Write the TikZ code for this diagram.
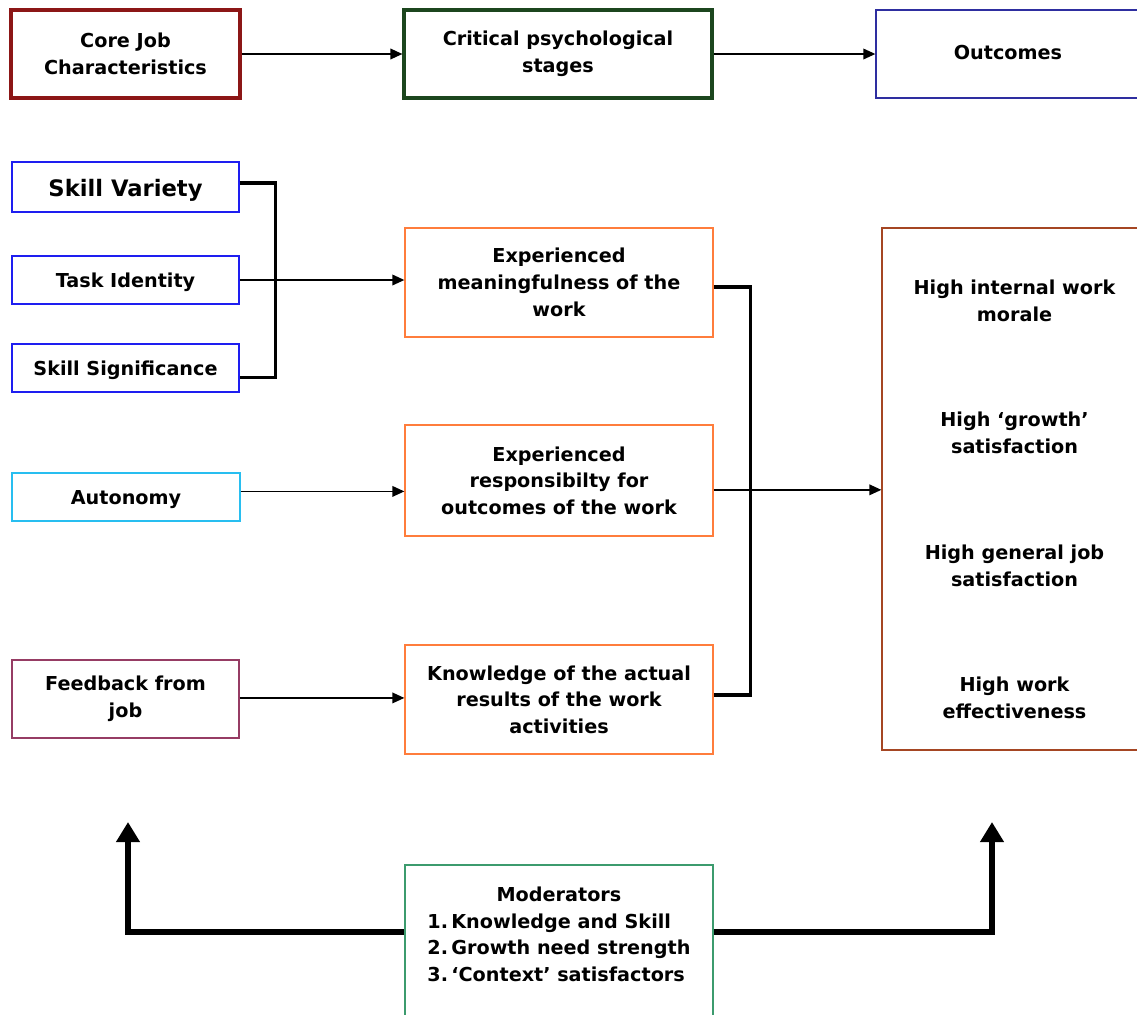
\documentclass[tikz,border=0pt]{standalone}
\usepackage{fontspec}
\setmainfont{DejaVu Sans}
\usetikzlibrary{arrows.meta}

\definecolor{coreRed}{RGB}{140,22,22}
\definecolor{stageGreen}{RGB}{28,70,30}
\definecolor{outBlue}{RGB}{46,46,160}
\definecolor{skillBlue}{RGB}{30,30,240}
\definecolor{stageOrange}{RGB}{255,125,60}
\definecolor{autoCyan}{RGB}{40,190,240}
\definecolor{fbPlum}{RGB}{150,60,100}
\definecolor{resBrown}{RGB}{165,70,35}
\definecolor{modGreen}{RGB}{60,155,110}

\def\u{0.75pt}
\newcommand\labelfont{\bfseries\fontsize{14.4}{20}\selectfont}

\tikzset{
  box/.style={draw=#1, rectangle, inner sep=0pt, align=center, font=\labelfont},
  heavybox/.style={box=#1, line width=2.4pt},
  lightbox/.style={box=#1, line width=1pt},
  oneline/.style={text height=#1, text depth=0pt},
  oneline/.default=10.5pt,
  outtext/.style={font=\labelfont, align=center},
  thinarrow/.style={line width=1.1pt, -{Triangle[length=9pt,width=8pt]}},
  joinline/.style={line width=2.6pt},
  bigarrow/.style={line width=4.4pt, line join=miter,
    -{Triangle[length=15pt,width=17pt]}},
}

\begin{document}
\begin{tikzpicture}[x=\u, y=-\u]
\useasboundingbox (0,0) rectangle (1137,1014);

% header row
\node[heavybox=coreRed, minimum width=229*\u, minimum height=88*\u] (core) at (125.5,54) {Core Job\\Characteristics};
\node[heavybox=stageGreen, minimum width=308*\u, minimum height=88*\u] (crit) at (558,54) {Critical psychological\\stages};
\node[lightbox=outBlue, minimum width=264*\u, minimum height=88*\u, oneline=7.5pt] (outc) at (1008,54) {Outcomes};

\draw[thinarrow] (core) -- (crit);
\draw[thinarrow] (crit) -- (outc);

% core job characteristics
\node[lightbox=skillBlue, minimum width=227*\u, minimum height=50*\u, oneline=14.6pt,
  font=\bfseries\fontsize{17}{20}\selectfont] (skv) at (125.5,187) {Skill Variety};
\node[lightbox=skillBlue, minimum width=227*\u, minimum height=48*\u, oneline] (tid) at (125.5,280) {Task Identity};
\node[lightbox=skillBlue, minimum width=227*\u, minimum height=48*\u, oneline] (sks) at (125.5,368) {Skill Significance};
\node[lightbox=autoCyan, minimum width=228*\u, minimum height=48*\u, oneline] (aut) at (126,497) {Autonomy};
\node[lightbox=fbPlum, minimum width=227*\u, minimum height=78*\u] (fbj) at (125.5,699) {Feedback from\\job};

% critical psychological states
\node[lightbox=stageOrange, minimum width=308*\u, minimum height=109*\u] (mean) at (559,282.5) {Experienced\\meaningfulness of the\\work};
\node[lightbox=stageOrange, minimum width=308*\u, minimum height=111*\u] (resp) at (559,480.5) {Experienced\\responsibilty for\\outcomes of the work};
\node[lightbox=stageOrange, minimum width=308*\u, minimum height=109*\u] (knw) at (559,699.5) {Knowledge of the actual\\results of the work\\activities};

% outcomes
\node[lightbox=resBrown, minimum width=265*\u, minimum height=522*\u] (res) at (1014.5,489) {};
\node[outtext] (o1) at (1014.5,301) {High internal work\\morale};
\node[outtext] (o2) at (1014.5,433) {High `growth'\\satisfaction};
\node[outtext] (o3) at (1014.5,566) {High general job\\satisfaction};
\node[outtext] (o4) at (1014.5,698) {High work\\effectiveness};

% moderators
\node[lightbox=modGreen, minimum width=308*\u, minimum height=160*\u] (mod) at (559,945) {};
\node[font=\labelfont, inner sep=0pt] (modtext) at (559,936)
  {\begin{tabular}{@{}l@{}}\multicolumn{1}{@{}c@{}}{Moderators}\\
   1.\,Knowledge and Skill\\
   2.\,Growth need strength\\
   3.\,`Context' satisfactors\end{tabular}};

% joins from characteristics to states
\draw[joinline] ([yshift=3pt]skv.east) -- ++(36,0) |- ([yshift=-7pt]sks.east);
\draw[thinarrow] (tid.east) -- (tid.east -| mean.west);
\draw[thinarrow] ([yshift=4.2pt]aut.east) -- ([yshift=4.2pt]aut.east -| resp.west);
\draw[thinarrow] ([yshift=0.8pt]fbj.east) -- ([yshift=0.8pt]fbj.east -| knw.west);

% joins from states to outcomes
\draw[joinline] ([yshift=-3.4pt]mean.east) -- ++(37,0) |- ([yshift=3.4pt]knw.east);
\draw[thinarrow] ([yshift=-7pt]resp.east) -- ([yshift=-7pt]resp.east -| res.west);

% moderator feedback arrows
\coordinate (upL) at (128,822);
\coordinate (upR) at (992,822);
\draw[bigarrow] ([yshift=10pt]mod.west) -| (upL);
\draw[bigarrow] ([yshift=10pt]mod.east) -| (upR);
\end{tikzpicture}
\end{document}
